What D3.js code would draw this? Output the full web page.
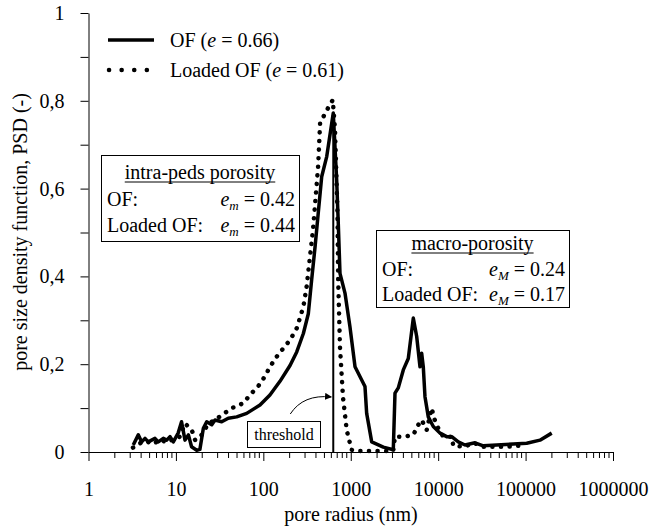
<!DOCTYPE html>
<html>
<head>
<meta charset="utf-8">
<script src="https://cdn.jsdelivr.net/npm/d3@7"></script>
<style>
  html, body { margin: 0; padding: 0; background: #fff; }
  svg { display: block; font-family: "Liberation Serif", "Times New Roman", serif; }
</style>
</head>
<body>
<svg id="chart" width="653" height="528"></svg>
<script>
// ---- data ----
const ofRadius = [3.25,3.71,4.06,4.43,4.83,5.28,5.76,6.29,7.17,7.85,8.56,9.34,10.6,11.6,12.7,13.9,15.1,17.3,18.8,20.6,22.5,25.7,28.0,33.4,39.7,49.6,64.5,91.6,119,155,202,241,287,327,357,391,426,465,531,631,690,720,753,859,980,1119,1334,1455,1521,1737,2357,3067,3207,3499,3992,4553,5193,5681,6194,6475,6759,7066,7710,8796,10490,12510,14280,16990,20260,26380,32820,46700,72300,103000,146000,199000];
const ofPSD = [0.016,0.039,0.023,0.031,0.023,0.027,0.031,0.023,0.031,0.027,0.035,0.023,0.043,0.069,0.027,0.039,0.012,0.004,0.006,0.054,0.069,0.062,0.073,0.069,0.077,0.080,0.088,0.107,0.130,0.161,0.197,0.228,0.270,0.315,0.392,0.468,0.547,0.627,0.673,0.772,0.620,0.521,0.407,0.362,0.285,0.194,0.164,0.149,0.088,0.023,0.011,0.005,0.134,0.146,0.187,0.213,0.305,0.263,0.194,0.225,0.194,0.126,0.080,0.058,0.043,0.035,0.035,0.023,0.016,0.021,0.014,0.016,0.018,0.020,0.027,0.043];

const loadedRadius = [3.23,3.89,4.54,5.47,6.58,7.92,9.50,11.1,12.7,15.2,16.6,19.7,23.5,28.0,33.4,43.6,58.9,70.4,87.6,104,119,142,169,202,241,262,287,313,370,423,446,530,623,661,705,718,753,815,899,1021,1279,1895,3056,3207,4172,5193,5929,6475,7390,8434,8960,10030,11450,14280,14900,20260,25220,32820,44670,60800,82400];
const loadedPSD = [0.010,0.020,0.025,0.018,0.028,0.022,0.030,0.035,0.065,0.050,0.027,0.039,0.065,0.073,0.084,0.100,0.111,0.130,0.150,0.172,0.194,0.217,0.236,0.255,0.282,0.305,0.331,0.377,0.506,0.649,0.749,0.778,0.802,0.733,0.544,0.392,0.239,0.125,0.050,0.005,0.002,0.002,0.002,0.035,0.035,0.039,0.062,0.073,0.050,0.100,0.077,0.054,0.035,0.035,0.014,0.012,0.021,0.012,0.012,0.012,0.014];

const xMajorTicks = [1,10,100,1000,10000,100000,1000000];
const xTickLabels = ["1","10","100","1000","10000","100000","1000000"];
const yTicks = [0,0.1,0.2,0.3,0.4,0.5,0.6,0.7,0.8,0.9,1];
const yTickLabels = {0:"0",0.2:"0,2",0.4:"0,4",0.6:"0,6",0.8:"0,8",1:"1"};

const thresholdRadius = 631;
const thresholdTop = 0.772;

const legendLabels = ["OF", "Loaded OF"];
const legendE = ["0.66", "0.61"];
const intraTitle = "intra-peds porosity";
const intraValues = ["0.42", "0.44"];
const macroTitle = "macro-porosity";
const macroValues = ["0.24", "0.17"];

// ---- scales ----
const svg = d3.select("#chart");
const x = d3.scaleLog().domain([1, 1e6]).range([88.5, 613]);
const y = d3.scaleLinear().domain([0, 1]).range([452, 13]);

// ---- axes ----
const yAxis = d3.axisLeft(y)
  .tickValues(yTicks)
  .tickSize(8)
  .tickSizeOuter(0)
  .tickPadding(16)
  .tickFormat(d => {
    const k = Math.round(d * 10) / 10;
    return yTickLabels[k] !== undefined ? yTickLabels[k] : "";
  });
const gy = svg.append("g").attr("transform", "translate(88.5,0)").call(yAxis);

const xAxis = d3.axisBottom(x)
  .tickValues(xMajorTicks)
  .tickSize(9)
  .tickSizeOuter(0)
  .tickPadding(21)
  .tickFormat((d, i) => xTickLabels[i]);
const gx = svg.append("g").attr("transform", "translate(0,452)").call(xAxis);

// minor x ticks
const minor = [];
for (let k = 0; k < 6; k++) for (let m = 2; m <= 9; m++) minor.push(m * Math.pow(10, k));
gx.selectAll("line.minor").data(minor).enter().append("line")
  .attr("class", "minor")
  .attr("x1", d => x(d)).attr("x2", d => x(d))
  .attr("y1", 0).attr("y2", 6)
  .attr("stroke", "#000").attr("stroke-width", 1);

[gx, gy].forEach(g => {
  g.selectAll("path.domain").attr("stroke", "#000").attr("stroke-width", 1);
  g.selectAll(".tick line").attr("stroke", "#000").attr("stroke-width", 1);
  g.selectAll("text").attr("font-family", "Liberation Serif").attr("font-size", 20).attr("fill", "#000");
});

// axis titles
svg.append("text").attr("x", 351).attr("y", 521).attr("text-anchor", "middle")
  .attr("font-size", 20).text("pore radius (nm)");
svg.append("text").attr("transform", "translate(27,232) rotate(-90)").attr("text-anchor", "middle")
  .attr("font-size", 20).text("pore size density function, PSD (-)");

// ---- series ----
const line = d3.line().x(d => x(d[0])).y(d => y(d[1]));
const ofData = ofRadius.map((r, i) => [r, ofPSD[i]]);
const loadedData = loadedRadius.map((r, i) => [r, loadedPSD[i]]);

svg.append("path").datum(loadedData).attr("d", line)
  .attr("fill", "none").attr("stroke", "#000").attr("stroke-width", 4.5)
  .attr("stroke-linecap", "round").attr("stroke-dasharray", "0.1,8.5");

svg.append("path").datum(ofData).attr("d", line)
  .attr("fill", "none").attr("stroke", "#000").attr("stroke-width", 3.5)
  .attr("stroke-linejoin", "round");

// ---- threshold ----
svg.append("line")
  .attr("x1", x(thresholdRadius)).attr("x2", x(thresholdRadius))
  .attr("y1", y(0)).attr("y2", y(thresholdTop))
  .attr("stroke", "#000").attr("stroke-width", 2);

svg.append("defs").append("marker").attr("id", "arr")
  .attr("viewBox", "0 0 10 10").attr("refX", 9).attr("refY", 5)
  .attr("markerWidth", 7).attr("markerHeight", 7).attr("orient", "auto")
  .append("path").attr("d", "M0,0 L10,5 L0,10 Z").attr("fill", "#000");

const tx = x(thresholdRadius);
svg.append("path")
  .attr("d", `M${tx - 43},414 Q${tx - 30},394 ${tx - 2},397`)
  .attr("fill", "none").attr("stroke", "#000").attr("stroke-width", 1)
  .attr("marker-end", "url(#arr)");

svg.append("rect").attr("x", 247.5).attr("y", 421.5).attr("width", 73).attr("height", 26)
  .attr("fill", "#fff").attr("stroke", "#000").attr("stroke-width", 1);
svg.append("text").attr("x", 284).attr("y", 440).attr("text-anchor", "middle")
  .attr("font-size", 16).text("threshold");

// ---- legend ----
const lg = svg.append("g");
lg.append("line").attr("x1", 108).attr("x2", 154).attr("y1", 40).attr("y2", 40)
  .attr("stroke", "#000").attr("stroke-width", 3.5);
lg.append("line").attr("x1", 109).attr("x2", 150).attr("y1", 70).attr("y2", 70)
  .attr("stroke", "#000").attr("stroke-width", 4.5).attr("stroke-linecap", "round")
  .attr("stroke-dasharray", "0.1,12.5");
[0, 1].forEach(i => {
  const t = lg.append("text").attr("x", 170).attr("y", 47 + i * 30).attr("font-size", 20);
  t.append("tspan").text(legendLabels[i] + " (");
  t.append("tspan").attr("font-style", "italic").text("e");
  t.append("tspan").text(" = " + legendE[i] + ")");
});

// ---- annotation boxes ----
function box(x0, y0, w, h, title, sub, vals, baselines) {
  const g = svg.append("g");
  g.append("rect").attr("x", x0 + 0.5).attr("y", y0 + 0.5).attr("width", w).attr("height", h)
    .attr("fill", "#fff").attr("stroke", "#000").attr("stroke-width", 1);
  const tt = g.append("text").attr("x", x0 + w / 2).attr("y", baselines[0])
    .attr("text-anchor", "middle").attr("font-size", 20).text(title);
  const tw = tt.node().getComputedTextLength();
  g.append("line").attr("x1", x0 + w / 2 - tw / 2).attr("x2", x0 + w / 2 + tw / 2)
    .attr("y1", baselines[0] + 3).attr("y2", baselines[0] + 3)
    .attr("stroke", "#000").attr("stroke-width", 1);
  const names = ["OF:", "Loaded OF:"];
  [0, 1].forEach(i => {
    g.append("text").attr("x", x0 + 6).attr("y", baselines[i + 1]).attr("font-size", 20).text(names[i]);
    const t = g.append("text").attr("x", x0 + w - 4).attr("y", baselines[i + 1])
      .attr("text-anchor", "end").attr("font-size", 20);
    t.append("tspan").attr("font-style", "italic").text("e");
    t.append("tspan").attr("font-style", "italic").attr("font-size", 13).attr("dy", 4).text(sub);
    t.append("tspan").attr("dy", -4).text(" = " + vals[i]);
  });
}
box(101, 155, 198, 86, intraTitle, "m", intraValues, [179, 206, 232]);
box(376, 230, 193, 77, macroTitle, "M", macroValues, [250, 276, 301]);
</script>
</body>
</html>
